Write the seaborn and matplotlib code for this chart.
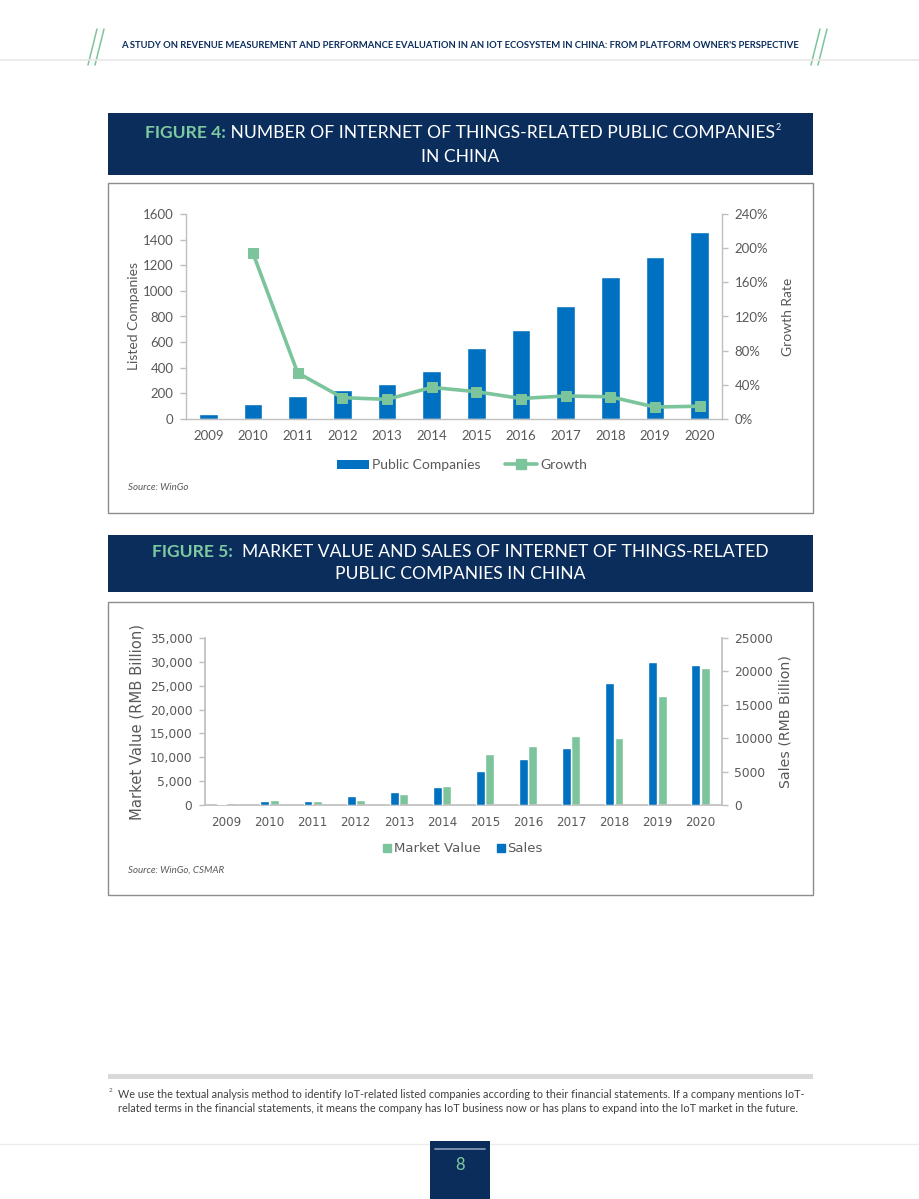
import numpy as np
import pandas as pd
import matplotlib
matplotlib.use("Agg")
import matplotlib.pyplot as plt
import seaborn as sns
from matplotlib.patches import Rectangle, Patch
from matplotlib.lines import Line2D
from matplotlib.ticker import FuncFormatter, FixedLocator

# ---------------- data ----------------
years = ["2009", "2010", "2011", "2012", "2013", "2014",
         "2015", "2016", "2017", "2018", "2019", "2020"]
public_companies = [39, 115, 177, 224, 274, 376, 553, 692, 880, 1112, 1266, 1459]
growth_rate = [np.nan, 1.94, 0.54, 0.25, 0.23, 0.37, 0.32, 0.24, 0.27, 0.26, 0.14, 0.15]

market_value = [420, 1050, 840, 1050, 2310, 3990, 10780, 12390, 14420, 14070, 22890, 28700]
sales = [150, 600, 600, 1300, 1950, 2750, 5050, 6850, 8550, 18300, 21400, 20950]

left4_ticks = [0, 200, 400, 600, 800, 1000, 1200, 1400, 1600]
right4_ticks = [0, 0.4, 0.8, 1.2, 1.6, 2.0, 2.4]
left5_ticks = [0, 5000, 10000, 15000, 20000, 25000, 30000, 35000]
right5_ticks = [0, 5000, 10000, 15000, 20000, 25000]

# ---------------- style ----------------
W, H = 920, 1199
BLUE = "#0070C0"
GREEN = "#7CC49C"
NAVY = "#0B2D5C"
TGREEN = "#7DC9A0"
GRAY = "#595959"
AXGRAY = "#BFBFBF"

sns.set_theme(style="white")
plt.rcParams["font.family"] = ["Lato", "DejaVu Sans"]

fig = plt.figure(figsize=(W / 100, H / 100), dpi=100)
fig.patch.set_facecolor("white")

bg = fig.add_axes([0, 0, 1, 1])
bg.set_xlim(0, W)
bg.set_ylim(H, 0)
bg.axis("off")


def rect(l, t, r, b):
    return [l / W, 1 - b / H, (r - l) / W, (b - t) / H]


renderer = fig.canvas.get_renderer()


def multi_text(parts, xc, y, size):
    texts = []
    for s, props in parts:
        t = bg.text(0, y, s, va="center", ha="left", fontsize=size, **props)
        texts.append(t)
    widths = [t.get_window_extent(renderer).width for t in texts]
    x = xc - sum(widths) / 2
    for t, w in zip(texts, widths):
        t.set_x(x)
        x += w
    return x


# ---------------- header ----------------
for x0 in (88, 811):
    for dx in (0, 7):
        bg.plot([x0 + dx + 9, x0 + dx], [29, 65], color=GREEN, lw=1.1)
bg.plot([0, W], [60, 60], color="#E8E8E8", lw=1.2)
bg.text(460, 46, "A STUDY ON REVENUE MEASUREMENT AND PERFORMANCE EVALUATION IN AN IOT ECOSYSTEM IN CHINA: FROM PLATFORM OWNER'S PERSPECTIVE",
        ha="center", va="center", fontsize=6.8, fontweight="bold", color=NAVY)

# ---------------- figure 4 title ----------------
bg.add_patch(Rectangle((108, 113), 705, 62, color=NAVY, lw=0))
xe = multi_text([("FIGURE 4:", dict(color=TGREEN, fontweight="bold")),
                 (" NUMBER OF INTERNET OF THINGS-RELATED PUBLIC COMPANIES", dict(color="white"))],
                460, 133, 12.6)
bg.text(xe + 1, 127, "2", fontsize=6.5, color="white", ha="left", va="center")
bg.text(460, 157, "IN CHINA", ha="center", va="center", fontsize=12.6, color="white")

bg.add_patch(Rectangle((108, 183), 705, 330, fill=False, edgecolor="#8C8C8C", lw=1))

# ---------------- figure 4 chart ----------------
ax1 = fig.add_axes(rect(186, 214, 722, 419))
sns.barplot(x=years, y=public_companies, order=years, color=BLUE, saturation=1,
            width=0.42, ax=ax1)
ax1.set_ylim(0, 1600)
ax1.set_xlim(-0.5, len(years) - 0.5)
ax1.yaxis.set_major_locator(FixedLocator(left4_ticks))
ax2 = ax1.twinx()
pos = np.arange(len(years))
sns.lineplot(x=pos, y=growth_rate, ax=ax2, color=GREEN, lw=2.6, marker="s",
             markersize=7.5, markeredgecolor=GREEN, legend=False)
ax2.set_ylim(0, 2.4)
ax2.set_xlim(-0.5, len(years) - 0.5)
ax2.yaxis.set_major_locator(FixedLocator(right4_ticks))
ax2.yaxis.set_major_formatter(FuncFormatter(lambda v, p: f"{v*100:.0f}%"))

for a in (ax1, ax2):
    a.set_facecolor("none")
    a.spines["top"].set_visible(False)
    for s in ("left", "right", "bottom"):
        a.spines[s].set_color(AXGRAY)
        a.spines[s].set_linewidth(1)
    a.tick_params(axis="y", length=4, color=AXGRAY, labelcolor=GRAY, labelsize=9.5, width=1, pad=5)
ax1.spines["right"].set_visible(False)
ax2.spines["left"].set_visible(False)
ax2.spines["bottom"].set_visible(False)
ax1.tick_params(axis="x", length=0, labelcolor=GRAY, labelsize=9.5, pad=8)
ax1.set_xticks(np.arange(-0.5, len(years), 1.0), minor=True)
ax1.tick_params(axis="x", which="minor", length=4, color=AXGRAY, width=1)
ax1.set_xlabel("")
ax1.set_ylabel("Listed Companies", color=GRAY, fontsize=10)
ax1.yaxis.set_label_coords((140 - 186) / 536, 0.5)
ax2.set_ylabel("Growth Rate", color=GRAY, fontsize=10)
ax2.yaxis.set_label_coords((782 - 186) / 536, 0.5)
ax2.yaxis.label.set_rotation(90)

h4 = [Patch(facecolor=BLUE, edgecolor="none"),
      Line2D([], [], color=GREEN, lw=2.6, marker="s", markersize=7, markeredgecolor=GREEN)]
fig.legend(h4, ["Public Companies", "Growth"], loc="center", ncol=2,
           bbox_to_anchor=(462 / W, 1 - 465 / H), frameon=False, fontsize=10,
           labelcolor=GRAY, handlelength=2.3, handletextpad=0.2, columnspacing=1.8,
           handleheight=0.6)
bg.text(128, 488, "Source: WinGo", fontsize=7, style="italic", color=GRAY, va="center")

# ---------------- figure 5 title ----------------
bg.add_patch(Rectangle((108, 535), 705, 57, color=NAVY, lw=0))
multi_text([("FIGURE 5:", dict(color=TGREEN, fontweight="bold")),
            ("  MARKET VALUE AND SALES OF INTERNET OF THINGS-RELATED", dict(color="white"))],
           460, 552, 12.6)
bg.text(460, 574, "PUBLIC COMPANIES IN CHINA", ha="center", va="center", fontsize=12.6, color="white")

bg.add_patch(Rectangle((108, 602), 705, 293, fill=False, edgecolor="#8C8C8C", lw=1))

# ---------------- figure 5 chart ----------------
hue_order = ["Sales", "Market Value"]
df_mv = pd.DataFrame({"year": years, "value": market_value, "series": "Market Value"})
df_s = pd.DataFrame({"year": years, "value": sales, "series": "Sales"})
pal = {"Sales": BLUE, "Market Value": GREEN}

ax3 = fig.add_axes(rect(205, 638, 722, 805))
sns.barplot(data=df_mv, x="year", y="value", hue="series", hue_order=hue_order,
            order=years, palette=pal, saturation=1, width=0.44, gap=0.06,
            dodge=True, legend=False, ax=ax3)
ax3.set_ylim(0, 35000)
ax3.yaxis.set_major_locator(FixedLocator(left5_ticks))
ax3.yaxis.set_major_formatter(FuncFormatter(lambda v, p: f"{v:,.0f}"))
ax4 = ax3.twinx()
sns.barplot(data=df_s, x="year", y="value", hue="series", hue_order=hue_order,
            order=years, palette=pal, saturation=1, width=0.44, gap=0.06,
            dodge=True, legend=False, ax=ax4)
ax4.set_ylim(0, 25000)
ax4.yaxis.set_major_locator(FixedLocator(right5_ticks))
ax4.yaxis.set_major_formatter(FuncFormatter(lambda v, p: f"{v:.0f}"))
for a in (ax3, ax4):
    a.set_xlim(-0.5, len(years) - 0.5)
    a.set_facecolor("none")
    a.spines["top"].set_visible(False)
    for s in ("left", "right", "bottom"):
        a.spines[s].set_color(AXGRAY)
    a.tick_params(axis="y", length=4, color=AXGRAY, labelcolor=GRAY, labelsize=8.8, width=1, pad=5)
    a.set_xlabel("")
    for lab in a.get_yticklabels() + a.get_xticklabels():
        lab.set_fontfamily("DejaVu Sans")
ax3.spines["right"].set_visible(False)
ax4.spines["left"].set_visible(False)
ax4.spines["bottom"].set_visible(False)
ax3.tick_params(axis="x", length=0, labelcolor=GRAY, labelsize=8.6, pad=8)
ax3.set_ylabel("Market Value (RMB Billion)", color=GRAY, fontsize=10.6, family="DejaVu Sans")
ax3.yaxis.set_label_coords((144 - 205) / 517, 0.5)
ax4.set_ylabel("Sales (RMB Billion)", color=GRAY, fontsize=10.2, family="DejaVu Sans")
ax4.yaxis.set_label_coords((779 - 205) / 517, 0.5)
ax4.yaxis.label.set_rotation(90)

h5 = [Line2D([], [], color=GREEN, lw=0, marker="s", markersize=6),
      Line2D([], [], color=BLUE, lw=0, marker="s", markersize=6)]
fig.legend(h5, ["Market Value", "Sales"], loc="center", ncol=2,
           bbox_to_anchor=(463 / W, 1 - 849 / H), frameon=False,
           prop={"family": "DejaVu Sans", "size": 9.5},
           labelcolor=GRAY, handlelength=0.6, handletextpad=0.2, columnspacing=1.2)
bg.text(128, 870, "Source: WinGo, CSMAR", fontsize=7, style="italic", color=GRAY, va="center")

# ---------------- footnote ----------------
bg.add_patch(Rectangle((108, 1074), 705, 5, color="#D9D9D9", lw=0))
bg.text(109, 1091, "2", fontsize=4.5, color=GRAY, va="center")
bg.text(118, 1095, "We use the textual analysis method to identify IoT-related listed companies according to their financial statements. If a company mentions IoT-",
        fontsize=7.8, color="#404040", va="center")
bg.text(118, 1108, "related terms in the financial statements, it means the company has IoT business now or has plans to expand into the IoT market in the future.",
        fontsize=7.8, color="#404040", va="center")

# ---------------- page number ----------------
bg.plot([0, W], [1144, 1144], color="#EDEDED", lw=1)
bg.add_patch(Rectangle((430, 1141), 60, 58, color=NAVY, lw=0, zorder=3))
bg.plot([435, 485], [1149, 1149], color="#8CA0BC", lw=1.2, zorder=4)
bg.text(460, 1165, "8", fontsize=12, color=TGREEN, ha="center", va="center", zorder=5)

fig.savefig("out.png", dpi=100, facecolor="white")
